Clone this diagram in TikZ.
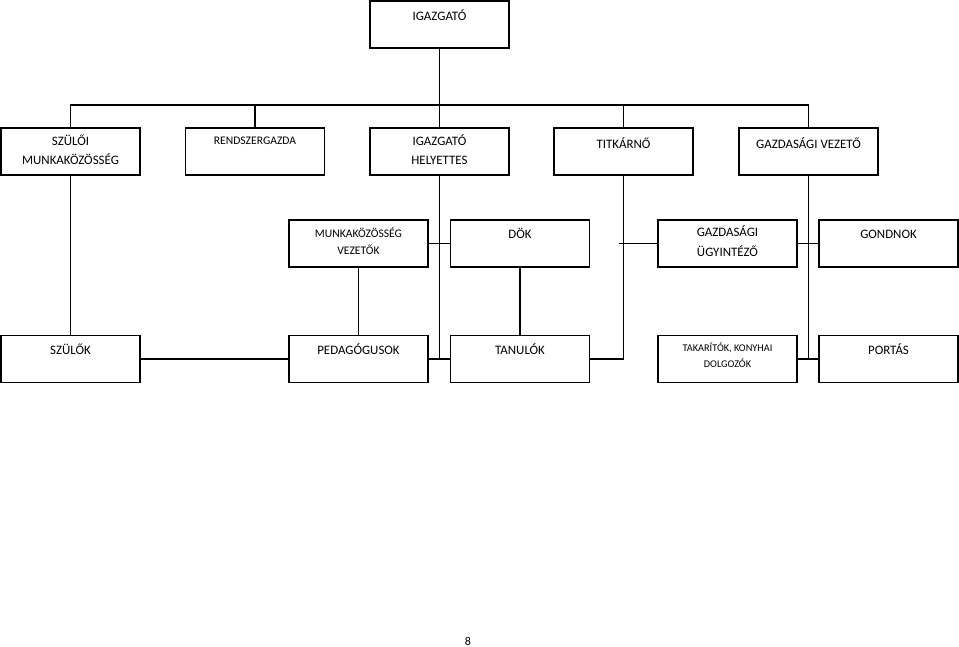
\documentclass[tikz,border=0pt]{standalone}
\usepackage{fontspec}
\setmainfont{Carlito}
\tikzset{
  box/.style={draw, line width=1.2pt, minimum width=139pt, minimum height=47pt, inner sep=0pt},
  caption/.style={anchor=north, align=center, inner sep=0pt, yshift=#1,
    font=\fontsize{12.9}{19.5}\selectfont, execute at begin node=\strut},
  caption/.default=-7pt,
  widecap/.style={caption=#1, font=\fontsize{12.9}{19.5}\selectfont},
  smallcap/.style={caption=#1, font=\fontsize{11.6}{16.5}\selectfont},
  smallcap/.default=-8.4pt,
  tinycap/.style={caption=-8pt, font=\fontsize{10.3}{16}\selectfont},
  link/.style={line width=1.2pt}
}
\begin{document}
\begin{tikzpicture}[x=1pt, y=-1pt]
	\useasboundingbox (0,0) rectangle (959,647);

	\node[box, label={[caption=-6.4pt]north:IGAZGATÓ}] (igazgato) at (439.5,24.5) {};

	\node[box, label={[caption]north:SZÜLŐI\\MUNKAKÖZÖSSÉG}] (szmk) at (70.5,151.5) {};
	\node[box, label={[smallcap=-5.4pt]north:RENDSZERGAZDA}] (rendszer) at (255,151.5) {};
	\node[box, label={[caption]north:IGAZGATÓ\\HELYETTES}] (helyettes) at (439.5,151.5) {};
	\node[box, label={[caption]north:TITKÁRNŐ}] (titkar) at (623.5,151.5) {};
	\node[box, label={[caption]north:GAZDASÁGI VEZETŐ}] (gazdvez) at (808.5,151.5) {};

	\node[box, label={[smallcap]north:MUNKAKÖZÖSSÉG\\VEZETŐK}] (mkvez) at (358.5,243.5) {};
	\node[box, label={[caption=-5.4pt]north:DÖK}] (dok) at (520,243.5) {};
	\node[box, label={[widecap=-6.4pt]north:GAZDASÁGI\\ÜGYINTÉZŐ}] (ugyint) at (727.5,243.5) {};
	\node[box, label={[caption=-5.4pt]north:GONDNOK}] (gondnok) at (888.5,243.5) {};

	\node[box, label={[caption=-5.4pt]north:SZÜLŐK}] (szulok) at (70.5,359) {};
	\node[box, label={[caption=-5.4pt]north:PEDAGÓGUSOK}] (pedag) at (358.5,359) {};
	\node[box, label={[caption=-5.4pt]north:TANULÓK}] (tanulok) at (520,359) {};
	\node[box, label={[tinycap]north:{TAKARÍTÓK, KONYHAI\\DOLGOZÓK}}] (takarito) at (727.5,359) {};
	\node[box, label={[caption=-5.4pt]north:PORTÁS}] (portas) at (888.5,359) {};

	\node[font=\fontsize{12}{14}\selectfont] (page) at (468,641) {8};

	% top level bus
	\coordinate (bus) at (439.5,105);
	\draw[link] (igazgato.south) -- (helyettes.north);
	\draw[link] (szmk.north) |- (bus) -| (gazdvez.north);
	\draw[link] (rendszer.north) |- (bus);
	\draw[link] (titkar.north) |- (bus);

	% lower links
	\draw[link] (szmk.south) -- (szulok.north);
	\draw[link] (szulok.east) -- (pedag.west);
	\draw[link] (mkvez.south) -- (pedag.north);
	\draw[link] (dok.south) -- (tanulok.north);
	\draw[link] (helyettes.south) -- (helyettes.south |- pedag.east);
	\draw[link] (mkvez.east) -- (dok.west);
	\draw[link] (pedag.east) -- (tanulok.west);
	\draw[link] (titkar.south) |- (tanulok.east);
	\coordinate (stub) at (619,243.5);
	\draw[link] (stub) -- (ugyint.west);
	\draw[link] (gazdvez.south) -- (gazdvez.south |- portas.west);
	\draw[link] (ugyint.east) -- (gondnok.west);
	\draw[link] (takarito.east) -- (portas.west);

\end{tikzpicture}
\end{document}
